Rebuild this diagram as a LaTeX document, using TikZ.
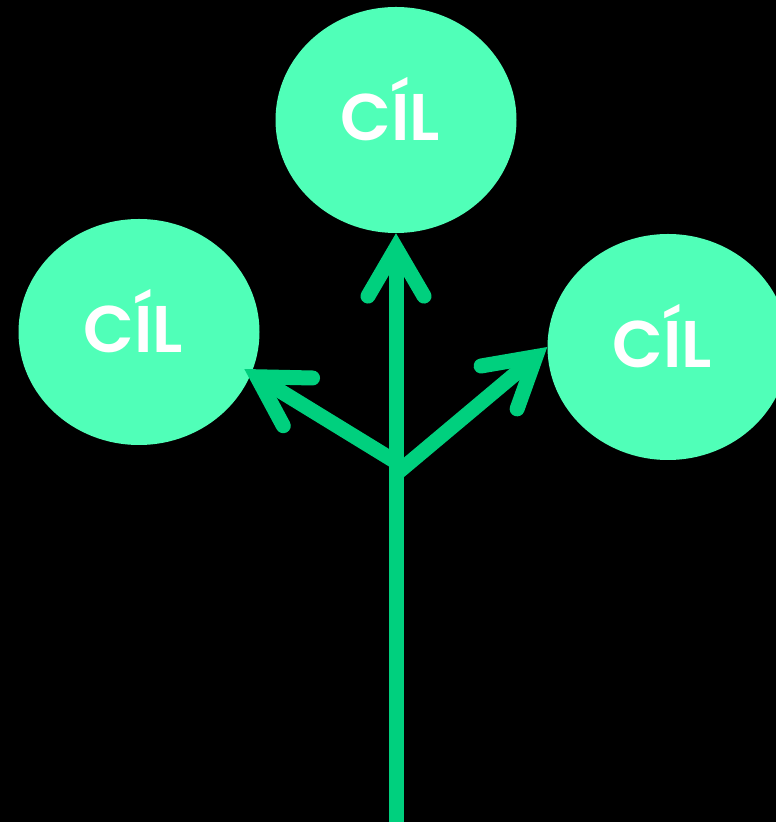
\documentclass[tikz,border=0pt]{standalone}
\usepackage{fontspec}
\setmainfont{Poppins}[BoldFont={Poppins SemiBold}]
\usetikzlibrary{arrows.meta,shapes.geometric}
\definecolor{goalfill}{RGB}{80,255,184}
\definecolor{branch}{RGB}{0,208,126}
\begin{document}
\begin{tikzpicture}[x=1pt,y=1pt,
  goal/.style={ellipse, fill=goalfill, minimum width=241pt, minimum height=226pt,
    inner sep=0pt, text=white, text height=47pt, text depth=6pt,
    font=\fontsize{66}{66}\selectfont\bfseries},
  branchline/.style={draw=branch, line width=15pt,
    -{Straight Barb[length=48pt,width=56pt,line cap=round,line join=miter]}}]
  % canvas
  \fill[black] (0,0) rectangle (776,822);
  \useasboundingbox (0,0) rectangle (776,822);

  % goals
  \node[goal] (T) at (396,702) {\hspace*{-12pt}CÍL};
  \node[goal] (L) at (139,490) {\hspace*{-12pt}CÍL};
  \node[goal] (R) at (668,475) {\hspace*{-12pt}CÍL};

  % trunk and its forks
  \coordinate (base) at (396,-10);
  \coordinate (forkL) at (396,360);
  \coordinate (forkR) at (396,348);

  \draw[branchline] (forkL) -- ([xshift=-8pt,yshift=2pt]L.-19.6);
  \draw[branchline] (forkR) -- (R.west);
  \draw[branchline] (base) -- (T.south);
\end{tikzpicture}
\end{document}
